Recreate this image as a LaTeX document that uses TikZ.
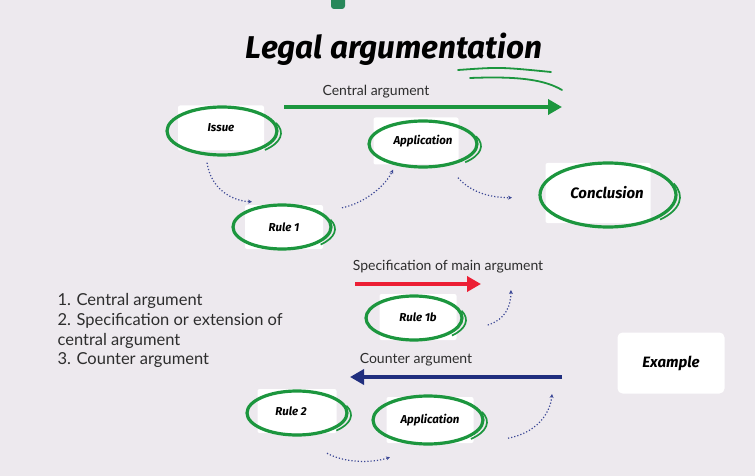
\documentclass[tikz,border=0pt]{standalone}
\usepackage{fontspec}
\setmainfont{Lato}
\newfontfamily\hand{Fira Sans}
\usetikzlibrary{arrows.meta,calc}
\definecolor{bg}{RGB}{237,233,238}
\definecolor{ringgreen}{RGB}{28,150,62}
\definecolor{dotblue}{RGB}{60,72,150}
\definecolor{redarrow}{RGB}{236,30,52}
\definecolor{navyarrow}{RGB}{32,46,126}
\definecolor{marker}{RGB}{40,135,90}
\definecolor{txt}{RGB}{45,45,45}
\tikzset{
  card/.style={fill=white, rounded corners=2pt, inner sep=0pt, text=black,
    font=\hand\bfseries\itshape\fontsize{11.5}{13}\selectfont},
  bigcard/.style={card, font=\hand\bfseries\itshape\fontsize{15}{17}\selectfont},
  ring/.style={draw=ringgreen, line width=3.2pt},
  flow/.style={draw=dotblue, dotted, line width=1.2pt, -{Stealth[length=4pt,width=4pt]}},
  bigarrow/.style={line width=3.6pt, -{Triangle[length=14pt,width=15pt]}},
  label/.style={text=txt, font=\fontsize{14}{16}\selectfont},
}
\newcommand{\hring}[3]{%
  \draw[ring] #1 ellipse [x radius=#2, y radius=#3];
  \draw[ring, line width=1.7pt] ($#1+(4,2)$) ++(45:#2 and #3) arc[start angle=45, end angle=-25, x radius=#2, y radius=#3];
}
\begin{document}
\begin{tikzpicture}[x=1pt,y=-1pt]
\fill[bg] (0,0) rectangle (755,476);
\useasboundingbox (0,0) rectangle (755,476);
% marker tip
\fill[marker, rounded corners=3pt] (331,-4) rectangle (345,9);
% title
\node[font=\hand\bfseries\itshape\fontsize{31.5}{36}\selectfont] (title) at (394,49) {Legal argumentation};
\draw[ringgreen, line width=1.8pt, line cap=round] (458,70) .. controls (500,67) .. (551,72);
\draw[ringgreen, line width=1.8pt, line cap=round] (470,78) .. controls (520,76) and (545,80) .. (562,90);
% central argument
\node[label] (centrallabel) at (376,92) {Central argument};
\coordinate (ca1) at (284,107);
\coordinate (ca2) at (562,107);
\draw[bigarrow, ringgreen] (ca1) -- (ca2);
% nodes row 1
\node[card, minimum width=86, minimum height=45] (issue) at (221,128) {Issue};
\node[card, minimum width=85, minimum height=47] (app) at (416,141) {\hspace{14pt}Application};
\node[card, minimum width=78, minimum height=44] (rule1) at (284,227) {Rule 1};
\node[bigcard, minimum width=105, minimum height=60] (concl) at (598,193) {\hspace{18pt}Conclusion};
\hring{(222,131)}{55}{24}
\hring{(423,144)}{54}{23}
\hring{(282,227)}{49}{22}
\hring{(608,195)}{68}{32}
% dotted flow row 1
\draw[flow] ($(issue.south)+(-14,12)$) .. controls ($(issue.south)+(-10,38)$) and ($(issue.south)+(10,50)$) .. ($(rule1.north)+(-32,-3)$);
\draw[flow] ($(rule1.north)+(58,3)$) .. controls ($(rule1.north)+(82,-2)$) and ($(rule1.north)+(102,-20)$) .. ($(app.south)+(-23,5)$);
\draw[flow] ($(app.south)+(42,13)$) .. controls ($(app.south)+(55,28)$) and ($(app.south)+(75,33)$) .. ($(app.south)+(96,33)$);
% specification
\node[label] (speclabel) at (448,267) {Specification of main argument};
\coordinate (sa1) at (355,284);
\coordinate (sa2) at (481,284);
\draw[bigarrow, redarrow] (sa1) -- (sa2);
\node[card, minimum width=77, minimum height=46] (rule1b) at (418,317) {Rule 1b};
\hring{(414,318)}{48}{22}
\coordinate (sp1) at (511,290);
\draw[flow] ($(rule1b.east)+(31,8)$) .. controls ($(rule1b.east)+(50,2)$) and ($(rule1b.east)+(54,-12)$) .. (sp1);
% list
\node[anchor=north west, align=left, text=txt, font=\fontsize{16.5}{19.7}\selectfont] (list) at (54,290)
  {1. Central argument\\2. Specification or extension of\\central argument\\3. Counter argument};
% example
\node[bigcard, rounded corners=5pt, minimum width=107, minimum height=61] (example) at (671,363) {Example};
% counter
\node[label] (counterlabel) at (416,360) {Counter argument};
\coordinate (cn1) at (562,377);
\coordinate (cn2) at (350,377);
\draw[bigarrow, navyarrow] (cn1) -- (cn2);
\node[card, minimum width=79, minimum height=44] (rule2) at (297,411) {\hspace{-12pt}Rule 2};
\node[card, minimum width=87, minimum height=46] (app2) at (430,420) {Application};
\hring{(297,413)}{50}{22}
\hring{(428,420)}{55}{24}
\draw[flow] ($(rule2.south)+(30,20)$) .. controls ($(rule2.south)+(48,30)$) and ($(rule2.south)+(75,30)$) .. ($(app2.south)+(-40,14)$);
\coordinate (cr1) at (552,394);
\draw[flow] ($(app2.south)+(78,-5)$) .. controls ($(app2.south)+(105,-10)$) and ($(app2.south)+(120,-28)$) .. (cr1);
\end{tikzpicture}
\end{document}
